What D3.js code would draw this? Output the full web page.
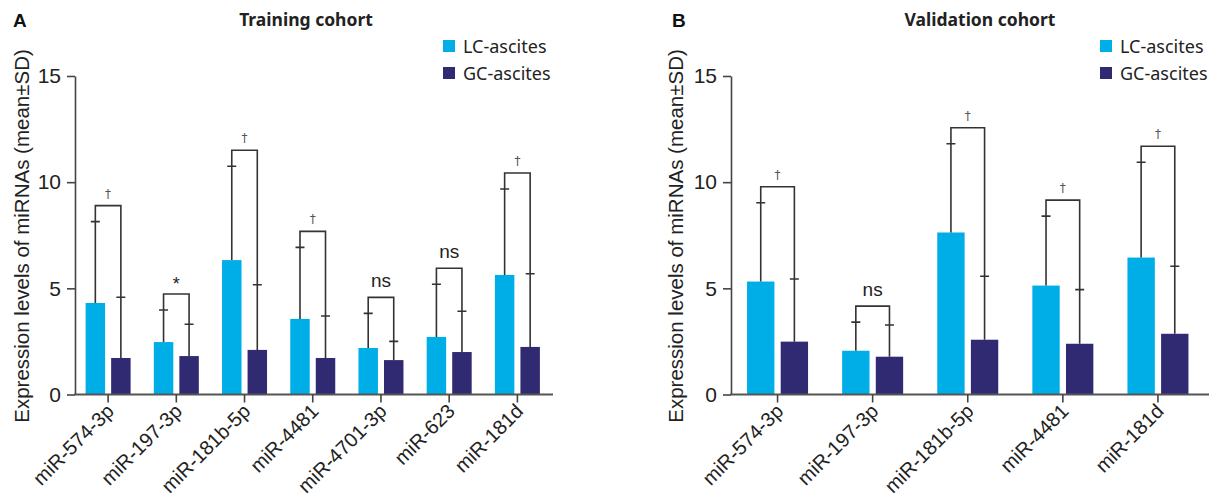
<!DOCTYPE html>
<html>
<head>
<meta charset="utf-8">
<script src="https://cdn.jsdelivr.net/npm/d3@7"></script>
<style>
  body { margin: 0; background: #fff; }
  text { font-family: "Liberation Sans", Arial, sans-serif; fill: #222; }
</style>
</head>
<body>
<svg id="chart" width="1211" height="499"></svg>
<script>
// data
const series = ['LC-ascites', 'GC-ascites'];
const yTicks = [0, 5, 10, 15];

const trainCategories = ['miR-574-3p', 'miR-197-3p', 'miR-181b-5p', 'miR-4481', 'miR-4701-3p', 'miR-623', 'miR-181d'];
const trainLcMean = [4.31, 2.47, 6.33, 3.56, 2.19, 2.71, 5.63];
const trainLcSd   = [3.83, 1.51, 4.42, 3.37, 1.63, 2.48, 4.05];
const trainGcMean = [1.72, 1.81, 2.10, 1.72, 1.62, 2.00, 2.24];
const trainGcSd   = [2.86, 1.50, 3.07, 1.98, 0.88, 1.92, 3.45];
const trainSig    = ['†', '*', '†', '†', 'ns', 'ns', '†'];

const validCategories = ['miR-574-3p', 'miR-197-3p', 'miR-181b-5p', 'miR-4481', 'miR-181d'];
const validLcMean = [5.32, 2.06, 7.63, 5.13, 6.45];
const validLcSd   = [3.71, 1.35, 4.18, 3.27, 4.49];
const validGcMean = [2.49, 1.78, 2.58, 2.39, 2.86];
const validGcSd   = [2.95, 1.49, 2.99, 2.55, 3.18];
const validSig    = ['†', 'ns', '†', '†', '†'];

const color = d3.scaleOrdinal().domain(series).range(['#00aee7', '#302a73']);

const svg = d3.select('#chart');

const y = d3.scaleLinear().domain([0, 15]).range([394.5, 76]);

function drawPanel(p) {
  const g = svg.append('g');

  const rows = p.categories.map((c, i) => ({
    cat: c,
    sig: p.sig[i],
    vals: [
      { key: series[0], mean: p.lcMean[i], sd: p.lcSd[i] },
      { key: series[1], mean: p.gcMean[i], sd: p.gcSd[i] }
    ]
  }));

  const x0 = d3.scaleBand().domain(p.categories).range([p.x0, p.x1]);
  const half = p.groupWidth / 2;
  const x1 = d3.scaleBand().domain(series)
    .range([x0.bandwidth() / 2 - half, x0.bandwidth() / 2 + half])
    .paddingInner(p.gap / (p.groupWidth + p.gap) * 2 / (1 + p.gap / (p.groupWidth + p.gap)));

  // bars
  const grp = g.selectAll('g.grp').data(rows).join('g')
    .attr('class', 'grp')
    .attr('transform', d => `translate(${x0(d.cat)},0)`);

  grp.selectAll('rect').data(d => d.vals).join('rect')
    .attr('x', d => x1(d.key))
    .attr('y', d => y(d.mean))
    .attr('width', x1.bandwidth())
    .attr('height', d => y(0) - y(d.mean))
    .attr('fill', d => color(d.key));

  // error bars (upper only)
  const cx = d => x1(d.key) + x1.bandwidth() / 2;
  grp.selectAll('path.err').data(d => d.vals).join('path')
    .attr('class', 'err')
    .attr('d', d => `M${cx(d)},${y(d.mean)}V${y(d.mean + d.sd)}M${cx(d) - 4.5},${y(d.mean + d.sd)}h9`)
    .attr('stroke', '#333').attr('stroke-width', 1.6).attr('fill', 'none');

  // significance brackets
  const bracketTop = d => Math.min(y(d.vals[0].mean + d.vals[0].sd), y(d.vals[1].mean + d.vals[1].sd)) - 16;
  grp.append('path')
    .attr('d', d => {
      const a = d.vals[0], b = d.vals[1];
      return `M${cx(a)},${y(a.mean + a.sd)}V${bracketTop(d)}H${cx(b)}V${y(b.mean + b.sd)}`;
    })
    .attr('stroke', '#333').attr('stroke-width', 1.6).attr('fill', 'none');

  grp.append('text')
    .attr('x', d => (cx(d.vals[0]) + cx(d.vals[1])) / 2)
    .attr('y', d => bracketTop(d) - (d.sig === 'ns' ? 10 : d.sig === '*' ? 4 : 8))
    .attr('text-anchor', 'middle')
    .style('font-family', d => d.sig === '†' ? '"DejaVu Sans", sans-serif' : null)
    .style('font-size', d => d.sig === 'ns' ? '19px' : (d.sig === '*' ? '18px' : '12px'))
    .style('fill', d => d.sig === '†' ? '#555' : '#222')
    .text(d => d.sig);

  // axes
  const yAxis = g.append('g')
    .attr('transform', `translate(${p.x0 + 1},0)`)
    .call(d3.axisLeft(y).tickValues(yTicks).tickSize(8).tickSizeOuter(0).tickPadding(6));
  yAxis.select('.domain').attr('stroke', '#444').attr('stroke-width', 1.6);
  yAxis.selectAll('.tick line').attr('stroke', '#444').attr('stroke-width', 1.6);
  yAxis.selectAll('.tick text').style('font-size', '21px').style('fill', '#222')
    .style('font-family', '"Liberation Sans", Arial, sans-serif');

  const xAxis = g.append('g')
    .attr('transform', `translate(0,${y(0)})`)
    .call(d3.axisBottom(x0).tickSize(8).tickSizeOuter(0).tickPadding(4));
  xAxis.select('.domain').attr('stroke', '#555').attr('stroke-width', 2)
    .attr('d', `M${p.x0},0H${p.axisEnd}`);
  xAxis.selectAll('.tick line').attr('stroke', '#444').attr('stroke-width', 1.6);
  xAxis.selectAll('.tick text')
    .style('font-size', '20px').style('fill', '#222')
    .style('font-family', '"Liberation Sans", Arial, sans-serif')
    .attr('text-anchor', 'end')
    .attr('dy', '0')
    .attr('transform', 'translate(7,18) rotate(-45)')
    .attr('y', 0).attr('x', 0);

  // axis title
  g.append('text')
    .attr('transform', `translate(${p.yTitleX},236) rotate(-90)`)
    .attr('text-anchor', 'middle')
    .style('font-size', '20.5px')
    .text('Expression levels of miRNAs (mean±SD)');

  // panel letter + title
  g.append('text').attr('x', p.letterX).attr('y', 27)
    .style('font-size', '19px').style('font-weight', 'bold').style('fill', '#111')
    .text(p.letter);
  g.append('text').attr('x', p.titleX).attr('y', 26)
    .attr('text-anchor', 'middle')
    .style('font-family', '"Noto Sans", sans-serif')
    .style('font-size', '17.5px').style('font-weight', 'bold').style('fill', '#222')
    .text(p.title);

  // legend
  const lg = g.append('g').attr('transform', `translate(${p.legendX},40)`);
  const item = lg.selectAll('g').data(series).join('g')
    .attr('transform', (d, i) => `translate(0,${i * 27})`);
  item.append('rect').attr('width', 12).attr('height', 12).attr('fill', d => color(d));
  item.append('text').attr('x', 20).attr('y', 12.5)
    .style('font-family', '"Noto Sans", sans-serif')
    .style('font-size', '18px').style('fill', '#222')
    .text(d => d);
}

drawPanel({
  letter: 'A', letterX: 13, title: 'Training cohort', titleX: 306,
  categories: trainCategories, lcMean: trainLcMean, lcSd: trainLcSd,
  gcMean: trainGcMean, gcSd: trainGcSd, sig: trainSig,
  x0: 74, x1: 551.5, axisEnd: 553, groupWidth: 45, gap: 7,
  yTitleX: 29, legendX: 443
});

drawPanel({
  letter: 'B', letterX: 672, title: 'Validation cohort', titleX: 980,
  categories: validCategories, lcMean: validLcMean, lcSd: validLcSd,
  gcMean: validGcMean, gcSd: validGcSd, sig: validSig,
  x0: 730, x1: 1205.5, axisEnd: 1209, groupWidth: 61, gap: 7,
  yTitleX: 683, legendX: 1100
});
</script>
</body>
</html>
